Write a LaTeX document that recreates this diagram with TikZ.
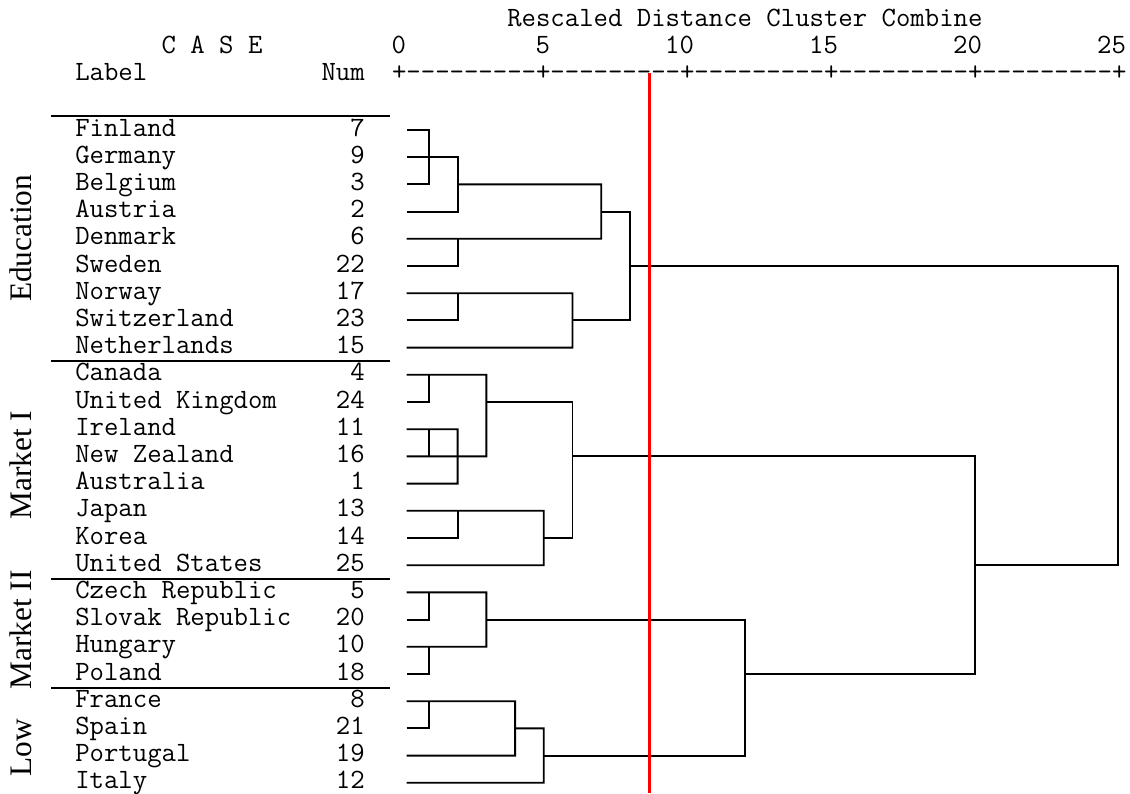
\documentclass[tikz,border=0pt]{standalone}
\usepackage{fontspec}
\setmonofont{Latin Modern Mono}
\newfontfamily\groupfont{Liberation Serif}
\usepackage{tikz}
\usetikzlibrary{calc}

\begin{document}
\begin{tikzpicture}[x=0.75pt,y=-0.75pt,
  txt/.style={font=\ttfamily\fontsize{20.97}{22}\selectfont, inner sep=0pt},
  group/.style={font=\groupfont\fontsize{23.5}{26}\selectfont, inner sep=0pt, rotate=90, anchor=base},
  tree/.style={line width=1.4pt},
  sep/.style={line width=1.4pt},
  cutline/.style={red, line width=2.2pt}]

\useasboundingbox (0,0) rectangle (1130,793);

% Header lines
\node[txt, anchor=base west] (title) at (507,26.5) {Rescaled Distance Cluster Combine};
\node[txt, anchor=base west] (case) at (161.4,53.5) {C A S E};
\node[txt, anchor=base west] (label) at (75,80) {Label};
\node[txt, anchor=base east] (numhead) at (365,80) {Num};
\node[txt, anchor=base west] (axis) at (391.8,80) {+---------+---------+---------+---------+---------+};
\foreach \t in {0,5,...,25}
  \node[txt, anchor=base east] (tick\t) at ({406.2+28.8*\t},53.5) {\t};

% Cases, numbers and leaf ends
\foreach \name/\num [count=\r from 0] in {Finland/7,Germany/9,Belgium/3,Austria/2,
    Denmark/6,Sweden/22,Norway/17,Switzerland/23,Netherlands/15,Canada/4,
    United Kingdom/24,Ireland/11,New Zealand/16,Australia/1,Japan/13,Korea/14,
    United States/25,Czech Republic/5,Slovak Republic/20,Hungary/10,Poland/18,
    France/8,Spain/21,Portugal/19,Italy/12} {
  \node[txt, anchor=base west] (name\r) at (75,{130+27.2*\r+6}) {\name};
  \node[txt, anchor=base east] (num\r) at (365,{130+27.2*\r+6}) {\num};
  \coordinate (l\r) at (406.7,{130+27.2*\r});
}

% Group separators
\foreach \r in {-0.5,8.5,16.5,20.5}
  \draw[sep] (51,{130+27.2*\r}) -- (390,{130+27.2*\r});

% Group names
\node[group] (edu) at (31.7,238.3) {Education};
\node[group] (mkt1) at (31.7,465) {Market I};
\node[group] (mkt2) at (31.7,630) {Market II};
\node[group] (low) at (31.7,748) {Low};

% Dendrogram: x in rescaled distance, y in rows
\begin{scope}[shift={(400.2,130)}, x=21.54pt, y=-20.4pt, tree]
% Education
\draw (l0) -| (1,2) -- (l2);
\draw (l1) -| (2,3) -- (l3);
\draw (2,2) -| (7,4) -- (l4);
\draw (l5) -| (2,4);
\draw (l6) -| (6,8) -- (l8);
\draw (l7) -| (2,6);
\draw (7,3) -| (8,7) -- (6,7);
\draw (8,5) -| (25,16) -- (20,16);
% Market I
\draw (l9) -| (3,12) -- (l12);
\draw (l10) -| (1,9);
\draw (l11) -| (2,13) -- (l13);
\draw (1,11) -- (1,12);
\draw (l14) -| (5,16) -- (l16);
\draw (l15) -| (2,14);
\draw (3,10) -| (6,15) -- (5,15);
\draw (6,12) -| (20,20) -- (12,20);
% Market II
\draw (l17) -| (3,19) -- (l19);
\draw (l18) -| (1,17);
\draw (l20) -| (1,19);
\draw (3,18) -| (12,23) -- (5,23);
% Low
\draw (l21) -| (4,23) -- (l23);
\draw (l22) -| (1,21);
\draw (4,22) -| (5,24) -- (l24);
\end{scope}

% Cut line
\coordinate (cuttop) at (649.3,73);
\coordinate (cutbot) at (649.3,793);
\draw[cutline] (cuttop) -- (cutbot);

\end{tikzpicture}
\end{document}
